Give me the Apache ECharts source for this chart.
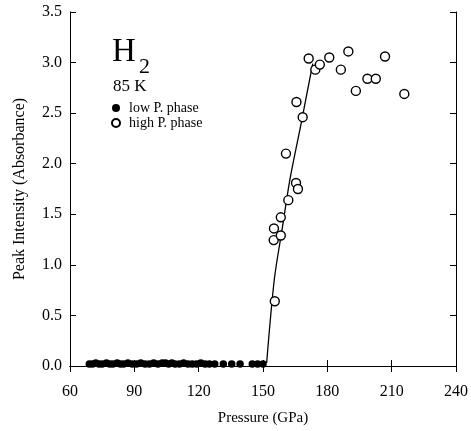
<!DOCTYPE html>
<html>
<head>
<meta charset="utf-8">
<script src="https://cdn.jsdelivr.net/npm/echarts@6/dist/echarts.min.js"></script>
<style>
  html, body { margin: 0; padding: 0; background: #fff; }
  #chart { width: 471px; height: 431px; }
</style>
</head>
<body>
<div id="chart"></div>
<script>
// low pressure phase (filled dots)
var lowP_x = [69, 70.5, 72, 73.5, 75, 77, 78.5, 80, 82, 83.5, 85, 87, 89, 91, 93, 95, 97,
              99, 101, 103, 104.5, 106, 107.5, 109, 111, 113, 115, 117, 119, 121, 123,
              125, 127.5, 131.5, 135.4, 139.3, 145, 147.5, 150];
var lowP_y = [0.02, 0.02, 0.03, 0.02, 0.02, 0.03, 0.02, 0.02, 0.03, 0.02, 0.02, 0.03, 0.02,
              0.02, 0.03, 0.02, 0.02, 0.03, 0.02, 0.03, 0.03, 0.02, 0.03, 0.02, 0.02, 0.03,
              0.02, 0.02, 0.02, 0.03, 0.02, 0.02, 0.02, 0.02, 0.02, 0.02, 0.02, 0.02, 0.02];
// high pressure phase (open circles)
var highP_x = [155.5, 155.0, 155.1, 158.3, 158.3, 160.7, 161.8, 165.4, 166.3, 165.6, 168.5,
               171.3, 174.4, 176.5, 180.9, 186.3, 189.8, 193.3, 198.7, 202.6, 206.9, 215.9];
var highP_y = [0.64, 1.245, 1.36, 1.29, 1.47, 2.10, 1.64, 1.81, 1.75, 2.61, 2.46,
               3.04, 2.93, 2.98, 3.05, 2.93, 3.11, 2.72, 2.84, 2.84, 3.06, 2.69];
// guide curve
var fit_x = [151.7, 155.3, 158.9, 162.6, 167.7, 173.2];
var fit_y = [0.03, 0.86, 1.35, 1.85, 2.39, 2.99];

function pairs(xs, ys) {
  return xs.map(function (x, i) { return [x, ys[i]]; });
}

var serif = 'Liberation Serif';
var chart = echarts.init(document.getElementById('chart'));
chart.setOption({
  animation: false,
  backgroundColor: '#fff',
  grid: { left: 70, right: 15, top: 12, bottom: 63 },
  xAxis: [{
    type: 'value', min: 60, max: 240, interval: 30,
    name: 'Pressure (GPa)', nameLocation: 'middle', nameGap: 45,
    nameTextStyle: { fontFamily: serif, fontSize: 15, color: '#000' },
    axisLine: { lineStyle: { color: '#000', width: 1 } },
    axisTick: { inside: true, length: 6, lineStyle: { color: '#000' } },
    axisLabel: { fontFamily: serif, fontSize: 16, color: '#000', margin: 18 },
    splitLine: { show: false }
  }, {
    type: 'value', min: 60, max: 240, interval: 30, position: 'top',
    axisLine: { lineStyle: { color: '#000', width: 1 } },
    axisTick: { inside: true, length: 6, lineStyle: { color: '#000' } },
    axisLabel: { show: false },
    splitLine: { show: false }
  }],
  yAxis: [{
    type: 'value', min: 0, max: 3.5, interval: 0.5,
    name: 'Peak Intensity (Absorbance)', nameLocation: 'middle', nameGap: 42,
    nameTextStyle: { fontFamily: serif, fontSize: 16, color: '#000' },
    axisLine: { show: true, lineStyle: { color: '#000', width: 1 } },
    axisTick: { show: true, inside: true, length: 6, lineStyle: { color: '#000' } },
    axisLabel: { fontFamily: serif, fontSize: 16, color: '#000', margin: 8,
      formatter: function (v) { return v.toFixed(1); } },
    splitLine: { show: false }
  }, {
    type: 'value', min: 0, max: 3.5, interval: 0.5, position: 'right',
    axisLine: { show: true, lineStyle: { color: '#000', width: 1 } },
    axisTick: { show: true, inside: true, length: 6, lineStyle: { color: '#000' } },
    axisLabel: { show: false },
    splitLine: { show: false }
  }],
  legend: {
    orient: 'vertical', left: 106, top: 96, itemGap: 1,
    itemWidth: 8, itemHeight: 8,
    textStyle: { fontFamily: serif, fontSize: 14, color: '#000', padding: [0, 0, 0, 4] },
    data: ['low P. phase', 'high P. phase']
  },
  graphic: [
    { type: 'text', left: 112, top: 36, style: { text: 'H', font: '33px "Liberation Serif"', fill: '#000' } },
    { type: 'text', left: 139, top: 56, style: { text: '2', font: '22px "Liberation Serif"', fill: '#000' } },
    { type: 'text', left: 113, top: 78, style: { text: '85 K', font: '17px "Liberation Serif"', fill: '#000' } }
  ],
  series: [{
    name: 'fit', type: 'line', data: pairs(fit_x, fit_y), smooth: 0.3,
    symbol: 'none', lineStyle: { color: '#000', width: 1.3 }, z: 1
  }, {
    name: 'low P. phase', type: 'scatter', data: pairs(lowP_x, lowP_y),
    symbol: 'circle', symbolSize: 7.5, itemStyle: { color: '#000', opacity: 1 }, z: 3
  }, {
    name: 'high P. phase', type: 'scatter', data: pairs(highP_x, highP_y),
    symbol: 'circle', symbolSize: 9,
    itemStyle: { color: '#fff', borderColor: '#000', borderWidth: 1.4, opacity: 1 }, z: 4
  }]
});
</script>
</body>
</html>
